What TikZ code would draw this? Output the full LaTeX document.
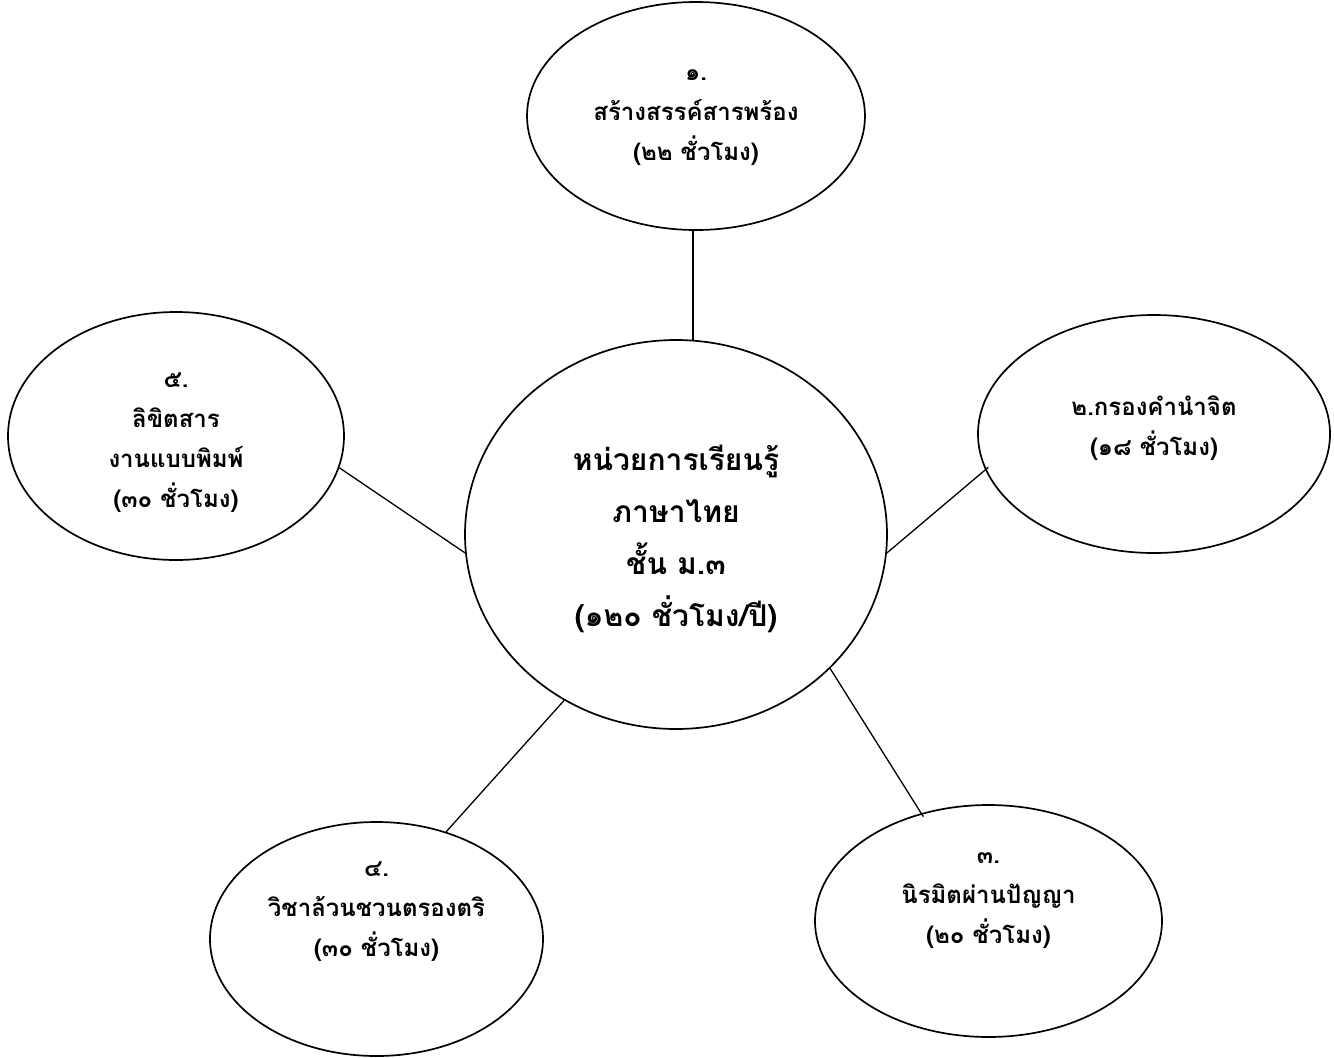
\documentclass[tikz,border=0pt]{standalone}
\usepackage{fontspec}
\newfontfamily\thaifont[Script=Thai]{Loma}
\usetikzlibrary{shapes.geometric}
\tikzset{
  bub/.style={ellipse, draw, line width=1.7pt, inner sep=0pt},
  lnk/.style={line width=1.3pt},
  txt/.style={align=center, inner sep=0pt, font=\thaifont\bfseries\fontsize{24}{40}\selectfont},
  big/.style={align=center, inner sep=0pt, font=\thaifont\bfseries\fontsize{30}{52}\selectfont}
}
\begin{document}
\begin{tikzpicture}[x=1pt,y=-1pt]
\useasboundingbox (0,0) rectangle (1334,1058);
% bubbles
\node[bub, minimum width=422pt, minimum height=389pt] (c) at (676,534.5) {};
\node[bub, minimum width=338pt, minimum height=228pt] (t) at (696,116) {};
\node[bub, minimum width=352pt, minimum height=238pt] (r) at (1154,434) {};
\node[bub, minimum width=336pt, minimum height=248pt] (l) at (176,436) {};
\node[bub, minimum width=333pt, minimum height=234pt] (bl) at (376.5,939) {};
\node[bub, minimum width=347pt, minimum height=232pt] (br) at (988.5,921) {};
% texts
\node[big] (ct) at (676,539) {หน่วยการเรียนรู้\\ภาษาไทย\\ชั้น ม.๓\\(๑๒๐ ชั่วโมง/ปี)};
\node[txt] (tt) at (696,118) {๑.\\สร้างสรรค์สารพร้อง\\(๒๒ ชั่วโมง)};
\node[txt] (rt) at (1154,428) {๒.กรองคำนำจิต\\(๑๘ ชั่วโมง)};
\node[txt] (lt) at (176,443) {๕.\\ลิขิตสาร\\งานแบบพิมพ์\\(๓๐ ชั่วโมง)};
\node[txt] (blt) at (376.5,912) {๔.\\วิชาล้วนชวนตรองตริ\\(๓๐ ชั่วโมง)};
\node[txt] (brt) at (988.5,901) {๓.\\นิรมิตผ่านปัญญา\\(๒๐ ชั่วโมง)};
% connectors
\draw[lnk] (c.85) -- (t.south -| c.85);
\draw[lnk, shorten >=-4pt] (c.-5) -- (r.192);
\draw[lnk] (c.185) -- (l.-11);
\draw[lnk] (c.236) -- (bl.57);
\draw[lnk, shorten >=-4pt] (c.-41) -- (br.122);
\end{tikzpicture}
\end{document}
